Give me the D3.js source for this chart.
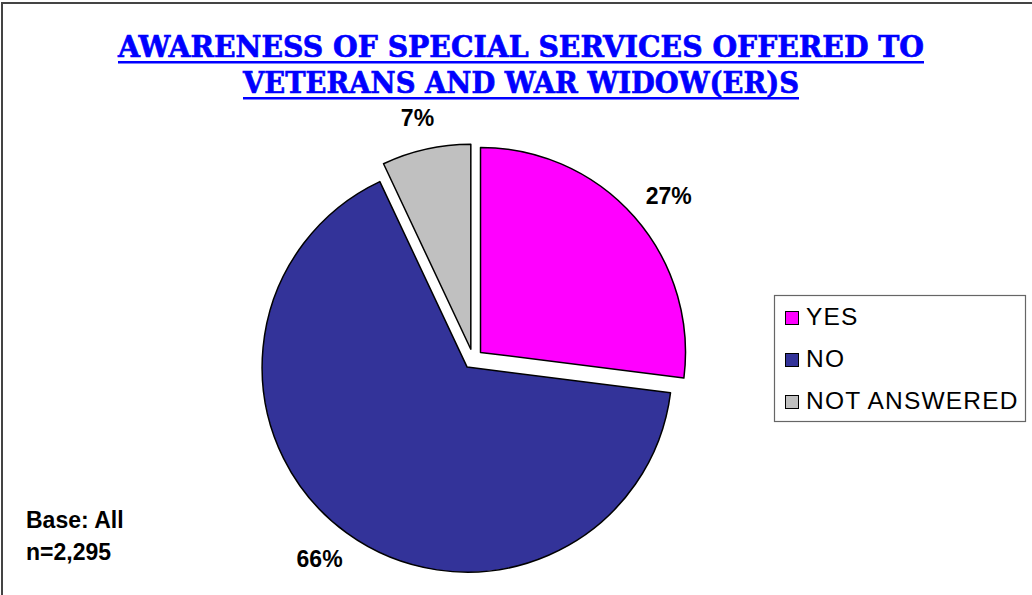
<!DOCTYPE html>
<html>
<head>
<meta charset="utf-8">
<script src="https://cdn.jsdelivr.net/npm/d3@7"></script>
<style>
  body { margin: 0; background: #fff; }
  svg { display: block; }
</style>
</head>
<body>
<script>
const categories = ['YES', 'NO', 'NOT ANSWERED'];
const values = [27, 66, 7];
const colors = ['#FF00FF', '#333399', '#C0C0C0'];
const titleLines = ['AWARENESS OF SPECIAL SERVICES OFFERED TO ', 'VETERANS AND WAR WIDOW(ER)S'];
const baseLines = ['Base: All', 'n=2,295'];

const w = 1032;
const h = 595;
const cx = 473, cy = 359, r = 205, explode = 10, labelD = 238;

const svg = d3.select('body').append('svg').attr('width', w).attr('height', h);

// outer frame (only left / top show in the picture)
svg.append('rect').attr('x', 2).attr('y', 3).attr('width', w + 10).attr('height', h + 10)
   .style('fill', 'none').style('stroke', '#444').style('stroke-width', 2);

// title
const titleY = [57, 93];
const titleW = [806, 556];
const titleX = [118, 243];
titleLines.forEach((t, i) => {
  svg.append('text').text(t)
     .attr('x', titleX[i]).attr('y', titleY[i])
     .attr('textLength', titleW[i]).attr('lengthAdjust', 'spacingAndGlyphs')
     .style('font-family', '"DejaVu Serif", serif').style('font-weight', 'bold')
     .style('font-size', '30px').style('fill', '#0000FF')
     .style('stroke', '#0000FF').style('stroke-width', 0.7);
  svg.append('rect').attr('x', titleX[i]).attr('y', titleY[i] + 4)
     .attr('width', titleW[i]).attr('height', 2.5).style('fill', '#0000FF');
});

const data = categories.map((c, i) => ({ name: c, value: values[i], color: colors[i] }));
const pie = d3.pie().value(d => d.value).sort(null);
const arcs = pie(data);
const arc = d3.arc().innerRadius(0).outerRadius(r);
const mid = d => (d.startAngle + d.endAngle) / 2;

const g = svg.append('g').attr('transform', 'translate(' + cx + ',' + cy + ')');

g.selectAll('path')
 .data(arcs)
 .enter()
 .append('path')
 .attr('d', arc)
 .attr('transform', d => 'translate(' + (explode * Math.sin(mid(d))) + ',' + (-explode * Math.cos(mid(d))) + ')')
 .style('fill', d => d.data.color)
 .style('stroke', '#000')
 .style('stroke-width', 1.5)
 .style('stroke-linejoin', 'round');

// labels sit just outside, pushed out by half their own box
g.selectAll('text.pct')
 .data(arcs)
 .enter()
 .append('text')
 .attr('class', 'pct')
 .attr('dy', '0.35em')
 .attr('text-anchor', 'middle')
 .text(d => d.data.value + '%')
 .style('font-family', '"Liberation Sans", Arial, sans-serif')
 .style('font-weight', 'bold')
 .style('font-size', '23px')
 .style('fill', '#000')
 .each(function(d) {
   const hw = this.getComputedTextLength() / 2;
   const hh = 9;
   d3.select(this)
     .attr('x', Math.sin(mid(d)) * (labelD + hw))
     .attr('y', -Math.cos(mid(d)) * (labelD + hh));
 });

// legend
const legend = svg.append('g').attr('id', 'legend');
legend.append('rect').attr('x', 774.5).attr('y', 295.5).attr('width', 251).attr('height', 126)
      .style('fill', '#fff').style('stroke', '#666').style('stroke-width', 1.2);
const ly = d3.scalePoint().domain(categories).range([316, 400]);
legend.selectAll('rect.key')
      .data(data)
      .enter()
      .append('rect')
      .attr('class', 'key')
      .attr('x', 785.5)
      .attr('y', d => ly(d.name) - 4.5)
      .attr('width', 13).attr('height', 13)
      .style('fill', d => d.color).style('stroke', '#000').style('stroke-width', 1);
legend.selectAll('text')
      .data(data)
      .enter()
      .append('text')
      .attr('x', 806)
      .attr('y', d => ly(d.name))
      .attr('dy', '0.36em')
      .text(d => d.name)
      .style('font-family', '"Liberation Sans", Arial, sans-serif')
      .style('font-size', '24.5px')
      .style('letter-spacing', '1.2px')
      .style('fill', '#000');

// base note
baseLines.forEach((t, i) => {
  svg.append('text').text(t)
     .attr('x', 26).attr('y', 528 + i * 32)
     .style('font-family', '"Liberation Sans", Arial, sans-serif')
     .style('font-weight', 'bold').style('font-size', '23px').style('fill', '#000');
});
</script>
</body>
</html>
